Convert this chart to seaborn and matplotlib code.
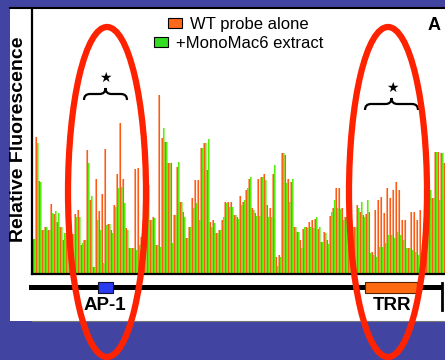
import numpy as np
import pandas as pd
import matplotlib
matplotlib.use("Agg")
import matplotlib.pyplot as plt
import seaborn as sns
from matplotlib.patches import Rectangle, Ellipse, Patch, PathPatch
from matplotlib.path import Path
from matplotlib.lines import Line2D
from matplotlib.transforms import Affine2D

# ---------------- data (relative fluorescence per nucleotide) ----------------
wt_probe = [35, 137, 93, 44, 47, 44, 70, 60, 52, 47, 34, 41, 34, 40, 60, 64, 29, 34, 124, 74,
            7, 95, 63, 80, 125, 50, 44, 69, 100, 151, 95, 46, 26, 26, 105, 106, 37, 40, 85, 54,
            57, 29, 179, 136, 132, 111, 111, 59, 107, 72, 62, 36, 47, 76, 94, 94, 126, 131, 104, 52,
            54, 41, 44, 54, 72, 72, 72, 59, 57, 78, 72, 84, 95, 66, 61, 95, 97, 100, 69, 66,
            100, 17, 19, 121, 119, 95, 92, 47, 42, 34, 45, 47, 52, 54, 55, 45, 32, 42, 34, 58,
            66, 86, 86, 66, 57, 37, 45, 47, 69, 62, 59, 60, 62, 22, 64, 74, 77, 61, 86, 76,
            84, 92, 84, 54, 54, 26, 62, 62, 54, 64, 30, 80, 80, 76, 122, 122, 121, 111]
monomac6 = [35, 131, 92, 44, 47, 44, 61, 63, 61, 47, 41, 38, 34, 40, 57, 57, 31, 34, 111, 78,
            7, 54, 44, 11, 49, 50, 41, 67, 86, 87, 71, 44, 26, 26, 24, 29, 37, 45, 89, 54,
            56, 29, 27, 146, 132, 111, 31, 59, 112, 72, 57, 36, 47, 66, 71, 54, 126, 131, 135, 47,
            51, 41, 44, 57, 71, 67, 67, 59, 55, 69, 74, 86, 97, 64, 58, 58, 97, 94, 57, 57,
            109, 8, 17, 121, 91, 72, 95, 47, 42, 26, 47, 46, 47, 46, 57, 47, 32, 41, 30, 62,
            74, 66, 65, 54, 57, 37, 47, 47, 66, 72, 57, 74, 21, 19, 17, 27, 27, 31, 39, 39,
            36, 42, 39, 34, 26, 26, 24, 22, 19, 19, 24, 84, 84, 76, 122, 74, 121, 105]
position = np.arange(len(wt_probe))

series_labels = ["WT probe alone", "+MonoMac6 extract"]
element_labels = ["AP-1", "TRR"]

orange = "#ff5a14"
green = "#55ee08"
leg_orange = "#ff6a1a"
leg_green = "#33dd22"
bg_blue = "#4145a1"

W, H = 445, 360
fig = plt.figure(figsize=(W / 100, H / 100), dpi=100)
fig.patch.set_facecolor(bg_blue)
plt.rcParams['font.family'] = ['Liberation Sans', 'DejaVu Sans']

# transform: original picture pixels (x right, y down) -> figure
pix = Affine2D().scale(1 / W, -1 / H).translate(0, 1) + fig.transFigure

# white slide panel
fig.add_artist(Rectangle((10, 8), 440, 313, transform=pix, facecolor="white",
                         edgecolor="none", zorder=0))
fig.add_artist(Line2D([10, 445], [8, 8], transform=pix, color="black", lw=1.5, zorder=1))
fig.add_artist(Line2D([32, 445], [321, 321], transform=pix, color="#777777", lw=0.8, zorder=1))

ax = fig.add_axes([32 / W, 1 - 274 / H, 1 - 32 / W, 266 / H])
ax.set_facecolor("none")

# the two traces sit side by side on each nucleotide, thin interleaved bars
df = pd.DataFrame({"x_wt": position - 0.25, "x_mm": position + 0.25,
                   "wt": wt_probe, "mm6": monomac6})
sns.barplot(data=df, x="x_wt", y="wt", native_scale=True, width=0.54, color=orange,
            saturation=1, linewidth=0, errorbar=None, ax=ax)
sns.barplot(data=df, x="x_mm", y="mm6", native_scale=True, width=0.54, color=green,
            saturation=1, linewidth=0, errorbar=None, ax=ax)
for p in ax.patches:
    p.set_snap(False)

ax.set_xlim(-0.67, -0.67 + 413 / 3)
ax.set_ylim(0, 266)
ax.set_xticks([])
ax.set_yticks([])
ax.set_xlabel("")
for s in ["top", "right"]:
    ax.spines[s].set_visible(False)
for s in ["left", "bottom"]:
    ax.spines[s].set_linewidth(1.6)
    ax.spines[s].set_color("black")

ax.set_ylabel("Relative Fluorescence", fontsize=14, fontweight="bold", va="center")
ax.yaxis.set_label_coords((19 - 32) / 413, (274 - 139) / 266)

# legend: two centred entries
leg_kw = dict(loc="center", frameon=False, fontsize=12, handlelength=0.85, handleheight=0.55,
              handletextpad=0.45, borderpad=0, borderaxespad=0, bbox_transform=pix)
leg1 = ax.legend(handles=[Patch(facecolor=leg_orange, edgecolor="black", lw=0.8)],
                 labels=[series_labels[0]], bbox_to_anchor=(238, 24), **leg_kw)
ax.add_artist(leg1)
ax.legend(handles=[Patch(facecolor=leg_green, edgecolor="black", lw=0.8)],
          labels=[series_labels[1]], bbox_to_anchor=(238.5, 43), **leg_kw)

fig.text(434, 25, "A", transform=pix, fontsize=13, fontweight="bold", ha="center", va="center")

# promoter map below the plot
fig.add_artist(Line2D([31, 440], [287, 287], transform=pix, color="black", lw=3.6, zorder=3))
fig.add_artist(Line2D([442, 442], [283, 310], transform=pix, color="black", lw=2, zorder=3))
fig.add_artist(Rectangle((98, 282), 15, 11, transform=pix, facecolor="#2a3cf0",
                         edgecolor="#111133", lw=0.8, zorder=4))
fig.add_artist(Rectangle((365, 282), 52, 11, transform=pix, facecolor="#ff6a10",
                         edgecolor="#552200", lw=0.8, zorder=4))
fig.text(105, 305, element_labels[0], transform=pix, fontsize=13.5, fontweight="bold",
         ha="center", va="center")
fig.text(392, 305, element_labels[1], transform=pix, fontsize=13.5, fontweight="bold",
         ha="center", va="center")


def brace(x0, x1, y, h):
    xm = (x0 + x1) / 2
    verts = [(x0, y + h), (x0, y), (x0 + h, y), (xm - h, y), (xm, y), (xm, y - h),
             (xm, y), (xm + h, y), (x1 - h, y), (x1, y), (x1, y + h)]
    codes = [Path.MOVETO, Path.CURVE3, Path.CURVE3, Path.LINETO, Path.CURVE3, Path.CURVE3,
             Path.CURVE3, Path.CURVE3, Path.LINETO, Path.CURVE3, Path.CURVE3]
    fig.add_artist(PathPatch(Path(verts, codes), transform=pix, facecolor="none",
                             edgecolor="black", lw=1.6, zorder=5))


brace(84, 127, 94, 6)
brace(365, 418, 104, 6)
fig.text(105, 78, "★", transform=pix, fontsize=10, ha="center", va="center",
         family=["DejaVu Sans"])
fig.text(392, 88, "★", transform=pix, fontsize=10, ha="center", va="center",
         family=["DejaVu Sans"])

# red highlight ellipses
for cx in (107, 388):
    fig.add_artist(Ellipse((cx, 192), 78, 330, transform=pix, facecolor="none",
                           edgecolor="#ff2200", lw=4.5, zorder=10))

fig.savefig("out.png", dpi=100, facecolor=fig.get_facecolor())
